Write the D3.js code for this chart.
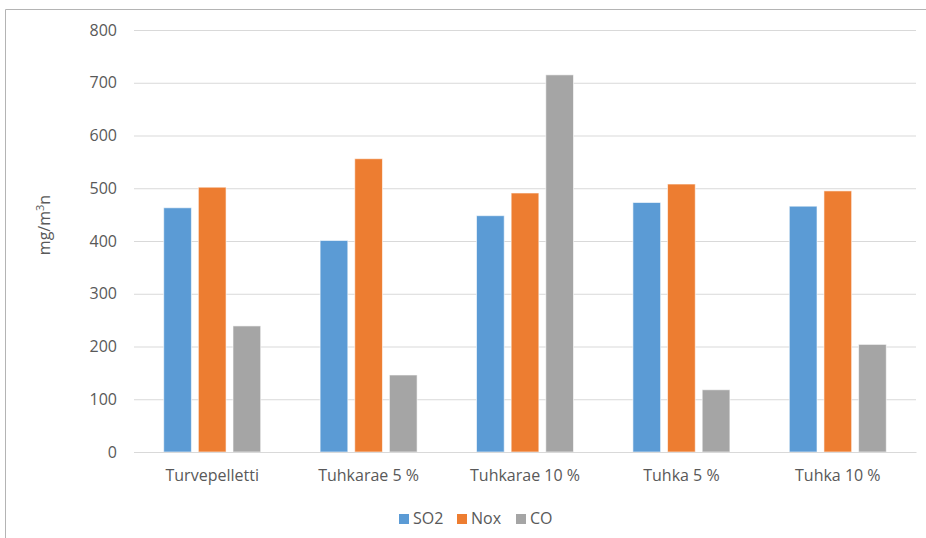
<!DOCTYPE html>
<html>
<head>
<meta charset="utf-8">
<script src="https://cdn.jsdelivr.net/npm/d3@7"></script>
<style>
  html, body { margin: 0; padding: 0; background: #fff; }
  svg { display: block; }
  text { font-family: "Open Sans", "Noto Sans", sans-serif; fill: #595959; }
</style>
</head>
<body>
<svg id="chart" width="926" height="538"></svg>
<script>
// Emissions per fuel mix, mg/m³n
const categories = ["Turvepelletti", "Tuhkarae 5 %", "Tuhkarae 10 %", "Tuhka 5 %", "Tuhka 10 %"];
const seriesNames = ["SO2", "Nox", "CO"];
const so2 = [463, 401, 448, 473, 466];
const nox = [502, 556, 491, 508, 495];
const co  = [239, 146, 715, 118, 204];
const yTicks = [0, 100, 200, 300, 400, 500, 600, 700, 800];
const colors = ["#5B9BD5", "#ED7D31", "#A5A5A5"];

const seriesValues = [so2, nox, co];

const svg = d3.select("#chart");
const W = 926, H = 538;
const plot = { left: 134, right: 916, top: 30, bottom: 452 };
const fontSize = 16;

// Chart frame
svg.append("path")
  .attr("d", `M5.5,${H} V9.5 H${W}`)
  .attr("fill", "none")
  .attr("stroke", "#B4B4B4")
  .attr("stroke-width", 1);

const y = d3.scaleLinear().domain([0, 800]).range([plot.bottom, plot.top]);
const x0 = d3.scaleBand().domain(categories).range([plot.left, plot.right]).padding(0);
const groupWidth = 97;
const x1 = d3.scaleBand().domain(seriesNames)
  .range([(x0.bandwidth() - groupWidth) / 2, (x0.bandwidth() + groupWidth) / 2])
  .paddingInner(0.2).paddingOuter(0);

// Gridlines and tick labels
const yAxis = d3.axisLeft(y).tickValues(yTicks)
  .tickSize(-(plot.right - plot.left)).tickPadding(17);
const gy = svg.append("g")
  .attr("transform", `translate(${plot.left},0)`)
  .call(yAxis);
gy.select(".domain").remove();
gy.selectAll(".tick line").attr("stroke", "#D9D9D9").attr("stroke-width", 1);
gy.selectAll(".tick text")
  .attr("font-size", fontSize)
  .attr("font-family", "Open Sans")
  .attr("fill", "#595959");

// Bars
const groups = svg.append("g").selectAll("g")
  .data(categories)
  .join("g")
  .attr("transform", d => `translate(${x0(d)},0)`);

groups.selectAll("rect")
  .data((c, i) => seriesNames.map((s, j) => ({ s, v: seriesValues[j][i], j })))
  .join("rect")
  .attr("x", d => x1(d.s))
  .attr("y", d => y(d.v))
  .attr("width", x1.bandwidth())
  .attr("height", d => y(0) - y(d.v))
  .attr("fill", d => colors[d.j])
  .attr("stroke", "rgba(255,255,255,0.6)")
  .attr("stroke-width", 1);

// Category axis
const xAxis = d3.axisBottom(x0).tickSize(0).tickPadding(18);
const gx = svg.append("g")
  .attr("transform", `translate(0,${plot.bottom})`)
  .call(xAxis);
gx.select(".domain").attr("stroke", "#D9D9D9");
gx.selectAll(".tick text")
  .attr("font-size", fontSize)
  .attr("font-family", "Open Sans")
  .attr("fill", "#595959");

// Y-axis title
const title = svg.append("text")
  .attr("transform", "translate(50,225) rotate(-90)")
  .attr("text-anchor", "middle")
  .attr("font-size", fontSize);
title.append("tspan").text("mg/m");
title.append("tspan").attr("font-size", 11).attr("dy", -6).text("3");
title.append("tspan").attr("dy", 6).text("n");

// Legend
const legendItems = [
  { name: "SO2", x: 399 },
  { name: "Nox", x: 457 },
  { name: "CO", x: 516 }
];
const legend = svg.append("g");
legendItems.forEach((d, i) => {
  legend.append("rect")
    .attr("x", d.x).attr("y", 514)
    .attr("width", 10).attr("height", 10)
    .attr("fill", colors[i]);
  legend.append("text")
    .attr("x", d.x + 14).attr("y", 524)
    .attr("font-size", fontSize)
    .text(seriesNames[i]);
});
</script>
</body>
</html>
